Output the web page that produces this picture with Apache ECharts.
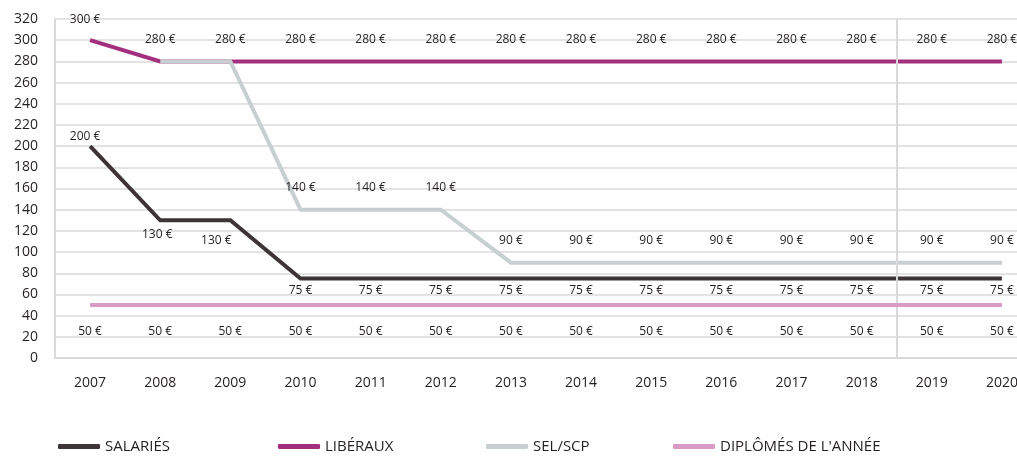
<!DOCTYPE html>
<html>
<head>
<meta charset="utf-8">
<script src="https://cdn.jsdelivr.net/npm/echarts@6/dist/echarts.min.js"></script>
<style>
  html, body { margin: 0; padding: 0; background: #fff; }
  #chart { width: 1017px; height: 457px; }
</style>
</head>
<body>
<div id="chart"></div>
<script>
const years = ['2007', '2008', '2009', '2010', '2011', '2012', '2013', '2014', '2015', '2016', '2017', '2018', '2019', '2020'];
const salaries = [200, 130, 130, 75, 75, 75, 75, 75, 75, 75, 75, 75, 75, 75];
const liberaux = [300, 280, 280, 280, 280, 280, 280, 280, 280, 280, 280, 280, 280, 280];
const selScp = [null, 280, 280, 140, 140, 140, 90, 90, 90, 90, 90, 90, 90, 90];
const diplomes = [50, 50, 50, 50, 50, 50, 50, 50, 50, 50, 50, 50, 50, 50];
// boundary between 2018 and 2019 (in band units)
const dividerAt = [12];

const names = ['SALARIÉS', 'LIBÉRAUX', 'SEL/SCP', "DIPLÔMÉS DE L'ANNÉE"];
const colors = ['#3d3436', '#a3307f', '#c8cfd1', '#d99ac4'];

const chart = echarts.init(document.getElementById('chart'));
const font = '"Open Sans", "Noto Sans", sans-serif';
const euro = p => p.value + ' €';

const baseLabel = {
    show: true,
    formatter: euro,
    fontFamily: font,
    fontSize: 12,
    color: '#231f20'
};

function line(idx, values, label, extra, shifts) {
    return {
        name: names[idx],
        type: 'line',
        data: values.map((v, i) => {
            const o = { value: v };
            if (extra && extra[i]) o.label = extra[i];
            return o;
        }),
        symbol: 'circle',
        symbolSize: 0,
        showSymbol: true,
        silent: true,
        lineStyle: { width: 4, color: colors[idx], cap: 'butt', join: 'miter' },
        itemStyle: { color: colors[idx] },
        label: Object.assign({}, baseLabel, label),
        labelLayout: (p) => {
            const s = shifts && shifts[p.dataIndex];
            return s ? { dx: s[0], dy: s[1], hideOverlap: false } : { hideOverlap: false };
        },
        z: 2 + idx
    };
}

const salExtra = { 0: { position: 'top', distance: 4 } };
const salShift = { 0: [-5, 0], 1: [-3, 2], 2: [-14, 8] };

const selExtra = {};
for (let i = 3; i < years.length; i++) selExtra[i] = { show: true };

const legendLefts = [58, 278, 486, 673];

const option = {
    animation: false,
    grid: { left: 55, width: 982, top: 19, bottom: 99, containLabel: false, outerBoundsMode: 'none' },
    legend: names.map((n, i) => ({
        data: [n],
        left: legendLefts[i],
        top: 439,
        padding: 0,
        icon: 'roundRect',
        itemWidth: 42,
        itemHeight: 5,
        itemGap: 8,
        textStyle: { fontFamily: font, fontSize: 15, color: '#231f20' },
        selectedMode: false
    })),
    xAxis: [{
        type: 'category',
        data: years,
        boundaryGap: true,
        axisLine: { show: true, lineStyle: { color: '#d9d9d9', width: 2 } },
        axisTick: { show: false },
        axisLabel: { fontFamily: font, fontSize: 14, color: '#231f20', margin: 18, interval: 0 },
        splitLine: { show: false }
    }, {
        type: 'value',
        min: 0,
        max: years.length,
        show: false
    }],
    yAxis: {
        type: 'value',
        min: 0,
        max: 320,
        interval: 20,
        axisLine: { show: true, lineStyle: { color: '#d9d9d9', width: 2 } },
        axisTick: { show: false },
        axisLabel: { fontFamily: font, fontSize: 14, color: '#231f20', margin: 17 },
        splitLine: { show: true, lineStyle: { color: '#e3e3e3', width: 2 } }
    },
    series: [
        line(0, salaries, { position: 'bottom', distance: 6 }, salExtra, salShift),
        line(1, liberaux, { position: 'top', distance: 16 }, { 0: { distance: 15 } }, { 0: [-5, 0] }),
        line(2, selScp, { show: false, position: 'top', distance: 16 }, selExtra),
        line(3, diplomes, { position: 'bottom', distance: 21 }),
        {
            type: 'line',
            xAxisIndex: 1,
            data: [],
            silent: true,
            markLine: {
                silent: true,
                symbol: 'none',
                label: { show: false },
                lineStyle: { color: '#d9d9d9', width: 2, type: 'solid' },
                data: dividerAt.map(v => ({ xAxis: v }))
            },
            z: 1
        }
    ]
};

chart.setOption(option);
</script>
</body>
</html>
